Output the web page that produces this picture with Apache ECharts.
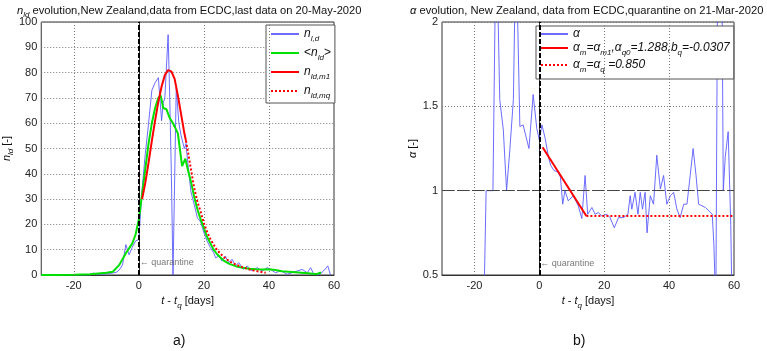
<!DOCTYPE html>
<html><head><meta charset="utf-8">
<script src="https://cdn.jsdelivr.net/npm/echarts@6/dist/echarts.min.js"></script>
<style>html,body{margin:0;padding:0;background:#fff}#c{width:767px;height:351px}</style>
</head><body><div id="c"></div>
<script>
// ---- panel a) daily new cases ----
const nldDays   = [-30,-28,-26,-24,-22,-20,-18,-16,-15,-14,-13,-12,-11,-10,-9,-8,-7,-6,-5,-4,-3,-2,-1,0,0.5,1,2,3,4,5,6,7,7.5,8,9,9.5,10,10.5,11.5,12.3,13,14,14.5,15,16,17,18,19,20,21,22,23,23.6,24.6,25.6,26.6,27.6,28.7,29.7,30.7,32.2,33.3,34.8,36.4,37.9,39.5,40.5,42,43.6,45.6,47.1,48.7,50.2,51.8,52.8,53.8,55.3,56.8,58.1,58.9];
const nldValues = [0,0,0,0,0,0,0,0,0,0.8,0.3,0.3,0.4,0.5,0.6,0.8,1,2,4,12,8,11,13.5,14,24,34,48,60,73,76,78,61,68,70,95,70,40,0,74,60,55,50,52,45,33,28,22.6,21,16.7,13.4,10.8,8.8,6.8,7.5,5.5,7.5,4.9,6.2,3.6,4.9,2.2,3.6,1.6,2.9,1.6,2.9,2.2,0.9,1.6,0.3,0.9,1.6,2.2,0.9,2.9,0.3,0,1.6,3.6,0];
const avgDays   = [-30,-25,-20,-15,-10,-8,-6,-4,-2,-1,0,1,2,3,4,5,6,6.7,7.5,8.5,9.5,10.5,12,13.3,14.3,15,16,17,18,19,20,21,22,23,24,25,26,27,28,30,32,34,36,38,40,42,44,46,48,50,52,54,55,56];
const avgValues = [0,0,0.1,0.3,0.9,1.3,4,8.6,12.5,16,22,32,42,52,60,66,70,71,66,65.5,62,60,56,43,46,42,37,31,26,22,18.5,15,12.5,10,8.3,7,5.8,5,4.3,3.4,2.9,2.5,2.3,2.2,2.3,2,1.5,1.3,1.1,0.9,0.7,0.4,0.5,1];
const m1Days    = [1,2,3,4,5,6,7,8,9,10,11,12,13,14,14.5];
const m1Values  = [30,36.5,44.5,53,61,68.5,74.5,79,81,80.5,77.5,71,63.5,56,53];
const mqDays    = [14.5,15,16,17,18,19,20,21,22,23,24,25,26,27,28,29,30,32,34,36,38,39];
const mqValues  = [53,49.5,42,34.5,29,25,20.5,17,14.2,12,10,8.5,7.3,6.2,5.3,4.6,4,3,2.2,1.6,1.1,0.9];

// ---- panel b) alpha ----
const alphaDays   = [-17.2,-16.4,-14.3,-13.3,-12.2,-11.1,-10.1,-9.1,-8.0,-7.2,-6.8,-6.0,-5.0,-4.4,-3.2,-1.9,-0.8,0,0.8,1.8,2.8,3.5,4.5,5.8,6.5,7.2,7.9,8.9,10.5,12,13.1,14.1,14.9,16.2,17.2,18.2,19.2,20.8,21.8,23.1,24.4,25.9,27.3,28,28.5,29.5,30.4,31.1,31.8,32.6,33.2,34.2,35.2,36.2,37.3,38.3,39.3,40.4,41.4,42.4,43.4,44.5,45.5,46.5,47.4,48.3,49.1,51.2,53.3,53.8,54.4,55.0,56.2,56.7,57.3,58.2,59,59.4];
const alphaValues = [0.2,1.0,1.0,2.6,1.54,1.36,1.0,1.24,1.54,2.5,2.5,1.38,1.39,1.38,1.25,1.57,1.37,1.30,1.39,1.31,1.2,1.15,1.12,1.11,1.08,0.92,1.0,0.94,0.97,0.91,0.835,1.09,0.86,0.9,0.86,0.87,0.85,0.86,0.84,0.78,0.84,0.84,0.86,0.97,0.89,0.99,0.86,0.99,0.89,0.99,0.75,0.97,0.92,1.21,1.01,1.09,0.92,0.97,0.99,0.89,0.84,0.92,0.92,1.09,1.25,1.09,0.92,0.9,0.86,0.68,0.3,2.5,2.5,1.0,1.2,1.35,0.8,0.3];
const alphaM1Days   = [1,14.5];
const alphaM1Values = [1.257,0.85];
const alphaQDays    = [14.5,60];
const alphaQValues  = [0.85,0.85];

// ---- axes / annotations ----
const xGridTicks = [-20,20,40];
const quarantineDay = 0;
const quarantineLabelA = 5;
const quarantineLabelB = 0.57;

const FONT = '"Liberation Sans", Arial, sans-serif';
const zip = (a,b) => a.map((x,i)=>[x,b[i]]);

function rich(main, sub) {
  const base = {fontFamily: FONT, color: '#111', fontSize: main, fontWeight: 'normal', lineHeight: main + 6};
  return {
    t: Object.assign({}, base),
    i: Object.assign({}, base, {fontStyle: 'italic'}),
    s: {fontFamily: FONT, color: '#111', fontSize: sub, fontWeight: 'normal', lineHeight: sub + 1, verticalAlign: 'bottom', fontStyle: 'italic'}
  };
}

const chart = echarts.init(document.getElementById('c'), null, {renderer: 'canvas'});

const dotted = {color: '#7a7a7a', width: 1, type: [1, 2]};
function xAxisCfg(gi) {
  return {
    type: 'value', gridIndex: gi, min: -30, max: 60, interval: 10,
    axisLine: {show: true, lineStyle: {color: '#333'}},
    axisTick: {show: false},
    splitLine: {show: false},
    axisLabel: {fontFamily: FONT, fontSize: 11, color: '#222', margin: 5,
      formatter: v => (v % 20 === 0 ? String(v) : '')},
    name: '{i|t}{t| - }{i|t}{s|q}{t| [days]}',
    nameLocation: 'middle', nameGap: 17,
    nameTextStyle: {rich: rich(11, 8)}
  };
}

const legendMapA = {
  'n_l,d': '{i|n}{s|l,d}',
  '<n_ld>': '{t|<}{i|n}{s|ld}{t|>}',
  'n_ld,m1': '{i|n}{s|ld,m1}',
  'n_ld,mq': '{i|n}{s|ld,mq}'
};
const legendMapB = {
  'alpha': '{i|α}',
  'alpha_m1': '{i|α}{s|m}{i|=α}{s|m1}{i|,α}{s|q0}{i|=1.288,b}{s|q}{i|=-0.0307}',
  'alpha_q': '{i|α}{s|m}{i|=α}{s|q}{i| =0.850}'
};
const noSymbol = {color: 'rgba(0,0,0,0)', borderWidth: 0, opacity: 0};

const option = {
  animation: false,
  backgroundColor: '#fff',
  title: [
    {left: 17, top: 2, padding: 0,
     text: '{i|n}{s|ld}{t| evolution,New Zealand,data from ECDC,last data on 20-May-2020}',
     textStyle: {fontWeight: 'normal', rich: rich(11.2, 8)}},
    {left: 410, top: 2, padding: 0,
     text: '{i|α}{t| evolution, New Zealand, data from ECDC,quarantine on 21-Mar-2020}',
     textStyle: {fontWeight: 'normal', rich: rich(11.2, 8)}},
    {left: 173, top: 334, padding: 0, text: 'a)', textStyle: {fontFamily: FONT, fontSize: 14, fontWeight: 'normal', color: '#111'}},
    {left: 573, top: 334, padding: 0, text: 'b)', textStyle: {fontFamily: FONT, fontSize: 14, fontWeight: 'normal', color: '#111'}}
  ],
  grid: [
    {left: 41, top: 22, width: 293, height: 253, show: true, borderColor: '#333', borderWidth: 1},
    {left: 442, top: 22, width: 292, height: 253, show: true, borderColor: '#333', borderWidth: 1}
  ],
  xAxis: [xAxisCfg(0), xAxisCfg(1)],
  yAxis: [
    {type: 'value', gridIndex: 0, min: 0, max: 100, interval: 10,
     axisLine: {show: true, lineStyle: {color: '#333'}},
     axisTick: {show: false},
     splitLine: {show: true, lineStyle: dotted},
     axisLabel: {fontFamily: FONT, fontSize: 11, color: '#222', margin: 4},
     name: '{i|n}{s|ld}{t| [-]}', nameLocation: 'middle', nameGap: 23,
     nameTextStyle: {rich: rich(11, 8)}},
    {type: 'value', gridIndex: 1, min: 0.5, max: 2, interval: 0.5,
     axisLine: {show: true, lineStyle: {color: '#333'}},
     axisTick: {show: false},
     splitLine: {show: true, lineStyle: dotted},
     axisLabel: {fontFamily: FONT, fontSize: 11, color: '#222', margin: 4},
     name: '{i|α}{t| [-]}', nameLocation: 'middle', nameGap: 21,
     nameTextStyle: {rich: rich(11, 8)}}
  ],
  legend: [
    {left: 266, top: 25, orient: 'vertical', data: ['n_l,d', '<n_ld>', 'n_ld,m1', 'n_ld,mq'],
     itemWidth: 28, itemHeight: 10, itemGap: 4, padding: [3, 4, 3, 4],
     borderColor: '#555', borderWidth: 1, backgroundColor: '#fff', itemStyle: noSymbol,
     formatter: n => legendMapA[n], textStyle: {rich: rich(12, 8)}, selectedMode: false},
    {left: 536, top: 26, orient: 'vertical', data: ['alpha', 'alpha_m1', 'alpha_q'],
     itemWidth: 27, itemHeight: 10, itemGap: 2, padding: [2, 4, 5, 4],
     borderColor: '#555', borderWidth: 1, backgroundColor: '#fff', itemStyle: noSymbol,
     formatter: n => legendMapB[n], textStyle: {rich: rich(12, 8)}, selectedMode: false}
  ],
  series: [
    {type: 'line', xAxisIndex: 0, yAxisIndex: 0, data: [], z: 1, silent: true,
     markLine: {silent: true, symbol: 'none', label: {show: false}, lineStyle: dotted,
       data: xGridTicks.map(v => ({xAxis: v}))}},
    {name: 'n_l,d', type: 'line', xAxisIndex: 0, yAxisIndex: 0, data: zip(nldDays, nldValues),
     symbol: 'none', z: 3, lineStyle: {color: '#5c5cff', width: 1, opacity: 0.9}, itemStyle: {color: '#5c5cff'}},
    {name: '<n_ld>', type: 'line', xAxisIndex: 0, yAxisIndex: 0, data: zip(avgDays, avgValues),
     symbol: 'none', z: 4, lineStyle: {color: '#00e000', width: 2}, itemStyle: {color: '#00e000'}},
    {name: 'n_ld,m1', type: 'line', xAxisIndex: 0, yAxisIndex: 0, data: zip(m1Days, m1Values),
     symbol: 'none', z: 5, lineStyle: {color: '#ff0000', width: 2}, itemStyle: {color: '#ff0000'}},
    {name: 'n_ld,mq', type: 'line', xAxisIndex: 0, yAxisIndex: 0, data: zip(mqDays, mqValues),
     symbol: 'none', z: 5, lineStyle: {color: '#ff0000', width: 2, type: [2, 2]}, itemStyle: {color: '#ff0000'}},
    {type: 'scatter', xAxisIndex: 0, yAxisIndex: 0, data: [[quarantineDay, quarantineLabelA]], symbolSize: 0, z: 6, silent: true,
     label: {show: true, position: 'right', distance: 1, formatter: '← quarantine', fontFamily: FONT, fontSize: 9, color: '#555'},
     markLine: {silent: true, symbol: 'none', label: {show: false}, lineStyle: {color: '#000', width: 2, type: [5, 2]},
       data: [{xAxis: quarantineDay}]}},
    {type: 'line', xAxisIndex: 1, yAxisIndex: 1, data: [], z: 1, silent: true,
     markLine: {silent: true, symbol: 'none', label: {show: false}, lineStyle: dotted,
       data: xGridTicks.map(v => ({xAxis: v}))}},
    {type: 'line', xAxisIndex: 1, yAxisIndex: 1, data: [], z: 2, silent: true,
     markLine: {silent: true, symbol: 'none', label: {show: false}, lineStyle: {color: '#444', width: 1, type: [12, 3]},
       data: [{yAxis: 1}]}},
    {name: 'alpha', type: 'line', xAxisIndex: 1, yAxisIndex: 1, data: zip(alphaDays, alphaValues),
     symbol: 'none', z: 3, lineStyle: {color: '#5c5cff', width: 1, opacity: 0.9}, itemStyle: {color: '#5c5cff'}},
    {name: 'alpha_m1', type: 'line', xAxisIndex: 1, yAxisIndex: 1, data: zip(alphaM1Days, alphaM1Values),
     symbol: 'none', z: 5, lineStyle: {color: '#ff0000', width: 2}, itemStyle: {color: '#ff0000'}},
    {name: 'alpha_q', type: 'line', xAxisIndex: 1, yAxisIndex: 1, data: zip(alphaQDays, alphaQValues),
     symbol: 'none', z: 5, lineStyle: {color: '#ff0000', width: 2, type: [2, 2]}, itemStyle: {color: '#ff0000'}},
    {type: 'scatter', xAxisIndex: 1, yAxisIndex: 1, data: [[quarantineDay, quarantineLabelB]], symbolSize: 0, z: 6, silent: true,
     label: {show: true, position: 'right', distance: 1, formatter: '← quarantine', fontFamily: FONT, fontSize: 9, color: '#555'},
     markLine: {silent: true, symbol: 'none', label: {show: false}, lineStyle: {color: '#000', width: 2, type: [5, 2]},
       data: [{xAxis: quarantineDay}]}}
  ]
};
chart.setOption(option);
</script></body></html>
